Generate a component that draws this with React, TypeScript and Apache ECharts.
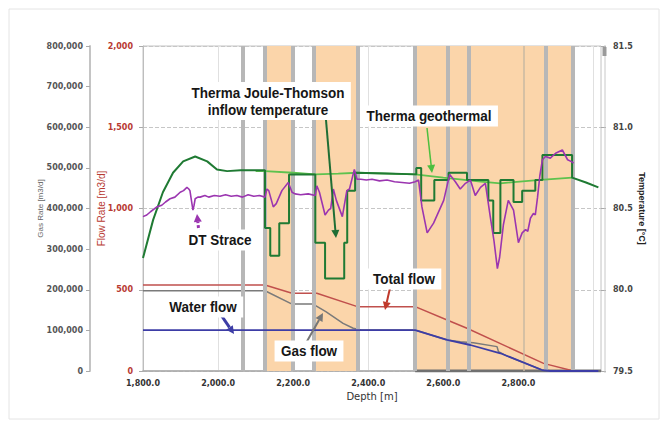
import React, { useEffect, useRef } from 'react';
import * as echarts from 'echarts';

// ---- data (depth [m], value) ----
const TOTAL_FLOW: [number, number][] = [
  [1800, 529], [2125, 529], [2197, 478], [2263, 478], [2371, 396], [2525, 396],
  [2610, 314], [2663, 263], [2867, 47], [2947, 0],
];
const GAS_FLOW: [number, number][] = [
  [1800, 494], [2125, 494], [2197, 412], [2253, 412], [2287, 365], [2333, 293],
  [2360, 263], [2382, 252], [2525, 252], [2610, 191], [2645, 180], [2680, 174],
  [2743, 150], [2747, 119], [2770, 92], [2863, 6], [2885, 0], [3013, 0],
];
const WATER_FLOW: [number, number][] = [
  [1800, 252], [2525, 252], [2610, 191], [2672, 160], [2752, 109], [2863, 6],
  [2885, 0], [3013, 0],
];
const GEOTHERMAL: [number, number][] = [
  [2100, 80.73], [2125, 80.73], [2200, 80.72], [2259, 80.71], [2320, 80.715],
  [2371, 80.72], [2450, 80.715], [2525, 80.71], [2600, 80.69], [2700, 80.665],
  [2752, 80.655], [2850, 80.675], [2943, 80.69],
];
const JT_TEMP: [number, number][] = [
  [1800, 80.195], [1827, 80.43], [1853, 80.6], [1880, 80.72], [1907, 80.79],
  [1939, 80.82], [1971, 80.79], [1997, 80.74], [2024, 80.73], [2060, 80.735],
  [2125, 80.735], [2125, 80.38], [2139, 80.38], [2139, 80.21], [2163, 80.21],
  [2163, 80.41], [2189, 80.41], [2189, 80.71], [2259, 80.71], [2259, 80.29],
  [2285, 80.29], [2285, 80.07], [2336, 80.07], [2336, 80.29], [2344, 80.29],
  [2344, 80.61], [2365, 80.61], [2365, 80.72], [2450, 80.715], [2528, 80.71],
  [2528, 80.75], [2541, 80.75], [2541, 80.55], [2576, 80.55], [2576, 80.675],
  [2614, 80.675], [2614, 80.72], [2663, 80.72], [2663, 80.675], [2720, 80.675],
  [2720, 80.55], [2733, 80.55], [2733, 80.35], [2752, 80.35], [2752, 80.675],
  [2787, 80.675], [2787, 80.54], [2810, 80.54], [2810, 80.61], [2845, 80.61],
  [2845, 80.675], [2864, 80.675], [2864, 80.83], [2943, 80.83], [2943, 80.69],
  [2980, 80.66], [3013, 80.63],
];
const DTS_TEMP: [number, number][] = [
  [1800, 80.45], [1810, 80.46], [1820, 80.48], [1837, 80.51], [1850, 80.52],
  [1860, 80.54], [1872, 80.56], [1885, 80.57], [1899, 80.6], [1908, 80.61],
  [1917, 80.63], [1922, 80.62], [1925, 80.61], [1929, 80.55], [1933, 80.49],
  [1936, 80.52], [1939, 80.56], [1946, 80.57], [1952, 80.57], [1965, 80.58],
  [1975, 80.57], [1990, 80.58], [2005, 80.575], [2020, 80.585], [2035, 80.575],
  [2050, 80.58], [2065, 80.57], [2080, 80.585], [2095, 80.575], [2110, 80.58],
  [2125, 80.57], [2130, 80.62], [2135, 80.61], [2147, 80.51], [2155, 80.53],
  [2170, 80.61], [2187, 80.66], [2197, 80.6], [2205, 80.59], [2220, 80.585],
  [2240, 80.59], [2259, 80.58], [2263, 80.64], [2270, 80.6], [2285, 80.46],
  [2294, 80.49], [2300, 80.5], [2307, 80.62], [2315, 80.55], [2331, 80.45],
  [2343, 80.61], [2350, 80.62], [2363, 80.74], [2370, 80.68], [2380, 80.68],
  [2395, 80.675], [2410, 80.68], [2430, 80.67], [2450, 80.675], [2470, 80.665],
  [2490, 80.66], [2510, 80.655], [2525, 80.665], [2534, 80.675], [2543, 80.51],
  [2557, 80.35], [2574, 80.41], [2601, 80.55], [2617, 80.71], [2632, 80.665],
  [2645, 80.62], [2659, 80.655], [2672, 80.675], [2685, 80.58], [2699, 80.63],
  [2712, 80.655], [2725, 80.45], [2735, 80.3], [2744, 80.13], [2750, 80.2],
  [2760, 80.4], [2773, 80.55], [2787, 80.49], [2800, 80.29], [2810, 80.35],
  [2819, 80.37], [2825, 80.36], [2832, 80.44], [2840, 80.47], [2845, 80.46],
  [2851, 80.57], [2857, 80.7], [2864, 80.8], [2872, 80.82], [2885, 80.81],
  [2899, 80.84], [2917, 80.86], [2931, 80.8], [2940, 80.79], [2947, 80.78],
];
const PERF_BANDS: [number, number][] = [[2125, 2200], [2256, 2371], [2525, 2947]];
const GREY_BARS: number[] = [2067, 2125, 2200, 2256, 2371, 2525, 2613, 2667, 2872, 2944];
const THIN_BARS: number[] = [2813];
const PERF_TRACK: [number, number][] = [[2525, 0], [3020, 0]];

const AX_FONT = '"DejaVu Sans", Verdana, sans-serif';
const LBL_FONT = 'bold 15px "Liberation Sans", Arial, sans-serif';

function arrow(x1: number, y1: number, x2: number, y2: number, color: string, width: number, dash?: number[]) {
  const ang = Math.atan2(y2 - y1, x2 - x1);
  const L = 8, W = 4;
  const bx = x2 - L * Math.cos(ang), by = y2 - L * Math.sin(ang);
  const px = -Math.sin(ang) * W, py = Math.cos(ang) * W;
  return [
    { type: 'line', z: 100, shape: { x1, y1, x2: bx, y2: by }, style: { stroke: color, lineWidth: width, lineDash: dash } },
    { type: 'polygon', z: 100, shape: { points: [[x2, y2], [bx + px, by + py], [bx - px, by - py]] }, style: { fill: color } },
  ];
}

function label(text: string, cx: number, cy: number) {
  return {
    type: 'text', z: 101, x: cx, y: cy, scaleX: 0.9,
    style: {
      text, x: 0, y: 0, align: 'center', verticalAlign: 'middle', font: LBL_FONT,
      fill: '#161616', backgroundColor: '#ffffff', padding: [2, 7], lineHeight: 17,
    },
  };
}

export default function App() {
  const ref = useRef<HTMLDivElement>(null);
  useEffect(() => {
    if (!ref.current) return;
    const chart = echarts.init(ref.current, undefined, { renderer: 'svg' });
    const fmtThousands = (v: number) => v.toLocaleString('en-US');
    chart.setOption({
      animation: false,
      backgroundColor: '#ffffff',
      grid: { left: 143, right: 61, top: 46, bottom: 56, show: true, borderColor: '#c4c4c4', borderWidth: 1 },
      xAxis: {
        type: 'value', min: 1800, max: 3020, interval: 200,
        axisLine: { show: true, lineStyle: { color: '#a8a8a8', width: 1.5 } },
        axisTick: { show: false },
        axisLabel: {
          color: '#333', fontSize: 8, fontWeight: 'bold', fontFamily: AX_FONT, margin: 8,
          formatter: (v: number) => (v > 2900 ? '' : v.toLocaleString('en-US', { minimumFractionDigits: 1 })),
        },
        splitLine: { show: true, lineStyle: { color: '#e0e0e0', width: 1 } },
        name: 'Depth [m]', nameLocation: 'middle', nameGap: 20, nameMoveOverlap: false,
        nameTextStyle: { color: '#333', fontSize: 10, fontFamily: AX_FONT },
      },
      yAxis: [
        {
          type: 'value', position: 'left', min: 0, max: 2000, interval: 500,
          axisLine: { show: true, lineStyle: { color: '#bdbdbd' } },
          axisTick: { show: true, length: 4, lineStyle: { color: '#aaa' } },
          axisLabel: { color: '#b83a32', fontSize: 8, fontWeight: 'bold', fontFamily: AX_FONT, margin: 10, formatter: fmtThousands },
          splitLine: { show: true, lineStyle: { color: '#c6c6c6', type: 'dashed' } },
          name: 'Flow Rate [m3/d]', nameLocation: 'middle', nameRotate: 90, nameGap: 37, nameMoveOverlap: false,
          nameTextStyle: { color: '#b83a32', fontSize: 10, fontFamily: '"Liberation Sans", Arial, sans-serif' },
        },
        {
          type: 'value', position: 'left', offset: 53, min: 0, max: 800000, interval: 100000,
          axisLine: { show: true, lineStyle: { color: '#c4c4c4', width: 2 } },
          axisTick: { show: true, length: 4, lineStyle: { color: '#aaa' } },
          axisLabel: { color: '#555', fontSize: 8, fontWeight: 'bold', fontFamily: AX_FONT, margin: 7, formatter: fmtThousands },
          splitLine: { show: false },
          name: 'Gas Rate [m3/d]', nameLocation: 'middle', nameRotate: 90, nameGap: 46, nameMoveOverlap: false,
          nameTextStyle: { color: '#666', fontSize: 8, fontFamily: '"Liberation Sans", Arial, sans-serif' },
        },
        {
          type: 'value', position: 'right', min: 79.5, max: 81.5, interval: 0.5,
          axisLine: { show: false },
          axisTick: { show: true, length: 5, lineStyle: { color: '#aaa' } },
          axisLabel: { color: '#444', fontSize: 8, fontWeight: 'bold', fontFamily: AX_FONT, margin: 12, formatter: (v: number) => v.toFixed(1) },
          splitLine: { show: false },
          name: 'Temperature [°C]', nameLocation: 'middle', nameRotate: -90, nameGap: 36, nameMoveOverlap: false,
          nameTextStyle: { color: '#222', fontSize: 9, fontWeight: 'bold', fontFamily: '"Liberation Sans", Arial, sans-serif' },
        },
      ],
      series: [
        {
          name: 'bands', type: 'line', z: 1, silent: true, data: [[1800, 0]], showSymbol: false,
          lineStyle: { width: 0, opacity: 0 },
          markArea: {
            silent: true, itemStyle: { color: '#fbd5aa' },
            data: PERF_BANDS.map(([a, b]) => [{ xAxis: a }, { xAxis: b }]),
          },
        },
        {
          name: 'bars', type: 'line', z: 2, silent: true, data: [[1800, 0]], showSymbol: false,
          lineStyle: { width: 0, opacity: 0 },
          markLine: {
            silent: true, symbol: ['none', 'none'], label: { show: false },
            lineStyle: { color: '#b7b7b7', width: 4, type: 'solid' },
            data: [
              ...GREY_BARS.map((d) => ({ xAxis: d })),
              ...THIN_BARS.map((d) => ({ xAxis: d, lineStyle: { width: 1.5, color: '#c9b8a2', type: 'solid' } })),
            ],
          },
        },
        { name: 'perf', type: 'line', z: 3, data: PERF_TRACK, showSymbol: false, lineStyle: { color: '#707070', width: 3 } },
        { name: 'Total flow', type: 'line', z: 4, yAxisIndex: 0, data: TOTAL_FLOW, showSymbol: false, lineStyle: { color: '#c0504d', width: 1.5 } },
        { name: 'Gas flow', type: 'line', z: 4, yAxisIndex: 0, data: GAS_FLOW, showSymbol: false, lineStyle: { color: '#7a7a7a', width: 1.5 } },
        { name: 'Water flow', type: 'line', z: 5, yAxisIndex: 0, data: WATER_FLOW, showSymbol: false, lineStyle: { color: '#3d3da6', width: 1.8 } },
        { name: 'Therma geothermal', type: 'line', z: 6, yAxisIndex: 2, data: GEOTHERMAL, showSymbol: false, lineStyle: { color: '#5ec24e', width: 1.8 } },
        { name: 'Therma JT', type: 'line', z: 7, yAxisIndex: 2, data: JT_TEMP, showSymbol: false, lineStyle: { color: '#1f7a33', width: 2 } },
        { name: 'DTS', type: 'line', z: 8, yAxisIndex: 2, data: DTS_TEMP, showSymbol: false, lineStyle: { color: '#9b35b0', width: 1.6 } },
      ],
      graphic: [
        { type: 'rect', z: 0, silent: true, shape: { x: 9, y: 9, width: 650, height: 410 }, style: { fill: 'none', stroke: '#e4e4e4', lineWidth: 1 } },
        { type: 'line', z: 90, silent: true, shape: { x1: 605, y1: 45, x2: 605, y2: 373 }, style: { stroke: '#c8c8c8', lineWidth: 1 } },
        { type: 'rect', z: 90, silent: true, shape: { x: 602.5, y: 47, width: 4, height: 9 }, style: { fill: '#9a9a9a' } },
        ...arrow(326, 120, 336, 238, '#1f6e35', 2),
        ...arrow(427, 128, 432, 173, '#4cbf3f', 1.5),
        ...arrow(199, 233, 197, 214, '#9b35b0', 3, [3, 2]),
        ...arrow(219, 312, 234, 334, '#3d3da6', 3),
        ...arrow(306, 343, 323, 313, '#777777', 2),
        ...arrow(390, 288, 385, 310, '#c0392b', 2),
        label('Therma Joule-Thomson\ninflow temperature', 268, 101),
        label('Therma geothermal', 429, 116),
        label('DT Strace', 220, 240),
        label('Water flow', 203, 307),
        label('Gas flow', 309, 351),
        label('Total flow', 404, 279),
      ],
    });
    return () => chart.dispose();
  }, []);
  return <div ref={ref} style={{ position: 'fixed', left: 0, top: 0, width: 662, height: 427, background: '#fff' }} />;
}
